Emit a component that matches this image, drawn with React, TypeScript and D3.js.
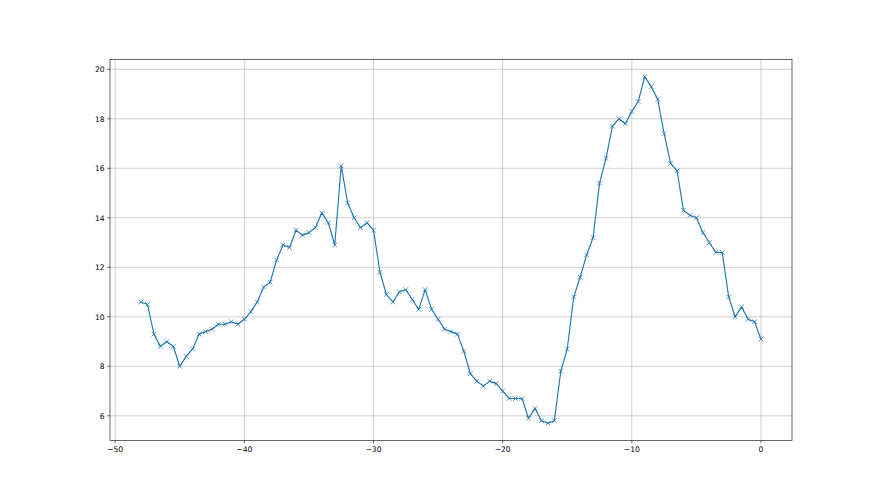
import React from "react";
import * as d3 from "d3";

const xStart = -48;
const xStep = 0.5;
const values: number[] = [
  10.6, 10.5, 9.3, 8.8, 9.0, 8.8, 8.0, 8.4, 8.7, 9.3,
  9.4, 9.5, 9.7, 9.7, 9.8, 9.7, 9.9, 10.2, 10.6, 11.2,
  11.4, 12.3, 12.9, 12.8, 13.5, 13.3, 13.4, 13.6, 14.2, 13.8,
  12.9, 16.1, 14.6, 14.0, 13.6, 13.8, 13.5, 11.8, 10.9, 10.6,
  11.0, 11.1, 10.7, 10.3, 11.1, 10.3, 9.9, 9.5, 9.4, 9.3,
  8.6, 7.7, 7.4, 7.2, 7.4, 7.3, 7.0, 6.7, 6.7, 6.7,
  5.9, 6.3, 5.8, 5.7, 5.8, 7.8, 8.7, 10.8, 11.6, 12.5,
  13.2, 15.4, 16.4, 17.7, 18.0, 17.8, 18.3, 18.7, 19.7, 19.3,
  18.8, 17.4, 16.2, 15.9, 14.3, 14.1, 14.0, 13.4, 13.0, 12.6,
  12.6, 10.8, 10.0, 10.4, 9.9, 9.8, 9.1,
];
const xTicks = [-50, -40, -30, -20, -10, 0];
const yTicks = [6, 8, 10, 12, 14, 16, 18, 20];

const W = 880, H = 495;
const L = 110, R = 792, T = 59.4, B = 440.55;

export default function App() {
  const pts = values.map((v, i) => ({ x: xStart + i * xStep, y: v }));
  const xMin = d3.min(pts, (d) => d.x)!, xMax = d3.max(pts, (d) => d.x)!;
  const yMin = d3.min(values)!, yMax = d3.max(values)!;
  const xm = (xMax - xMin) * 0.05, ym = (yMax - yMin) * 0.05;
  const x = d3.scaleLinear().domain([xMin - xm, xMax + xm]).range([L, R]);
  const y = d3.scaleLinear().domain([yMin - ym, yMax + ym]).range([B, T]);
  const line = d3.line<{ x: number; y: number }>().x((d) => x(d.x)).y((d) => y(d.y));
  const color = "#1f77b4";
  const ms = 2.3;
  const font = "'DejaVu Sans', sans-serif";
  return (
    <svg width={W} height={H} style={{ position: "absolute", left: 0, top: 0, background: "#fff" }}>
      <rect x={0} y={0} width={W} height={H} fill="#fff" />
      <g>
        {xTicks.map((t) => (
          <line key={"gx" + t} x1={x(t)} x2={x(t)} y1={T} y2={B} stroke="#b0b0b0" strokeWidth={0.6} />
        ))}
        {yTicks.map((t) => (
          <line key={"gy" + t} x1={L} x2={R} y1={y(t)} y2={y(t)} stroke="#b0b0b0" strokeWidth={0.6} />
        ))}
      </g>
      <path d={line(pts)!} fill="none" stroke={color} strokeWidth={1.15} strokeLinejoin="round" strokeLinecap="square" />
      <g stroke={color} strokeWidth={0.76}>
        {pts.map((d, i) => (
          <g key={i} transform={`translate(${x(d.x)},${y(d.y)})`}>
            <line x1={-ms} y1={-ms} x2={ms} y2={ms} />
            <line x1={-ms} y1={ms} x2={ms} y2={-ms} />
          </g>
        ))}
      </g>
      <rect x={L} y={T} width={R - L} height={B - T} fill="none" stroke="#000" strokeWidth={0.6} />
      <g fontFamily={font} fontSize={7.6} fill="#000">
        {xTicks.map((t) => (
          <g key={"tx" + t}>
            <line x1={x(t)} x2={x(t)} y1={B} y2={B + 2.7} stroke="#000" strokeWidth={0.6} />
            <text x={x(t)} y={B + 2.7 + 2.7 + 6} textAnchor="middle">{t < 0 ? "\u2212" + Math.abs(t) : String(t)}</text>
          </g>
        ))}
        {yTicks.map((t) => (
          <g key={"ty" + t}>
            <line x1={L - 2.7} x2={L} y1={y(t)} y2={y(t)} stroke="#000" strokeWidth={0.6} />
            <text x={L - 2.7 - 2.7} y={y(t)} dy="0.36em" textAnchor="end">{t}</text>
          </g>
        ))}
      </g>
    </svg>
  );
}
